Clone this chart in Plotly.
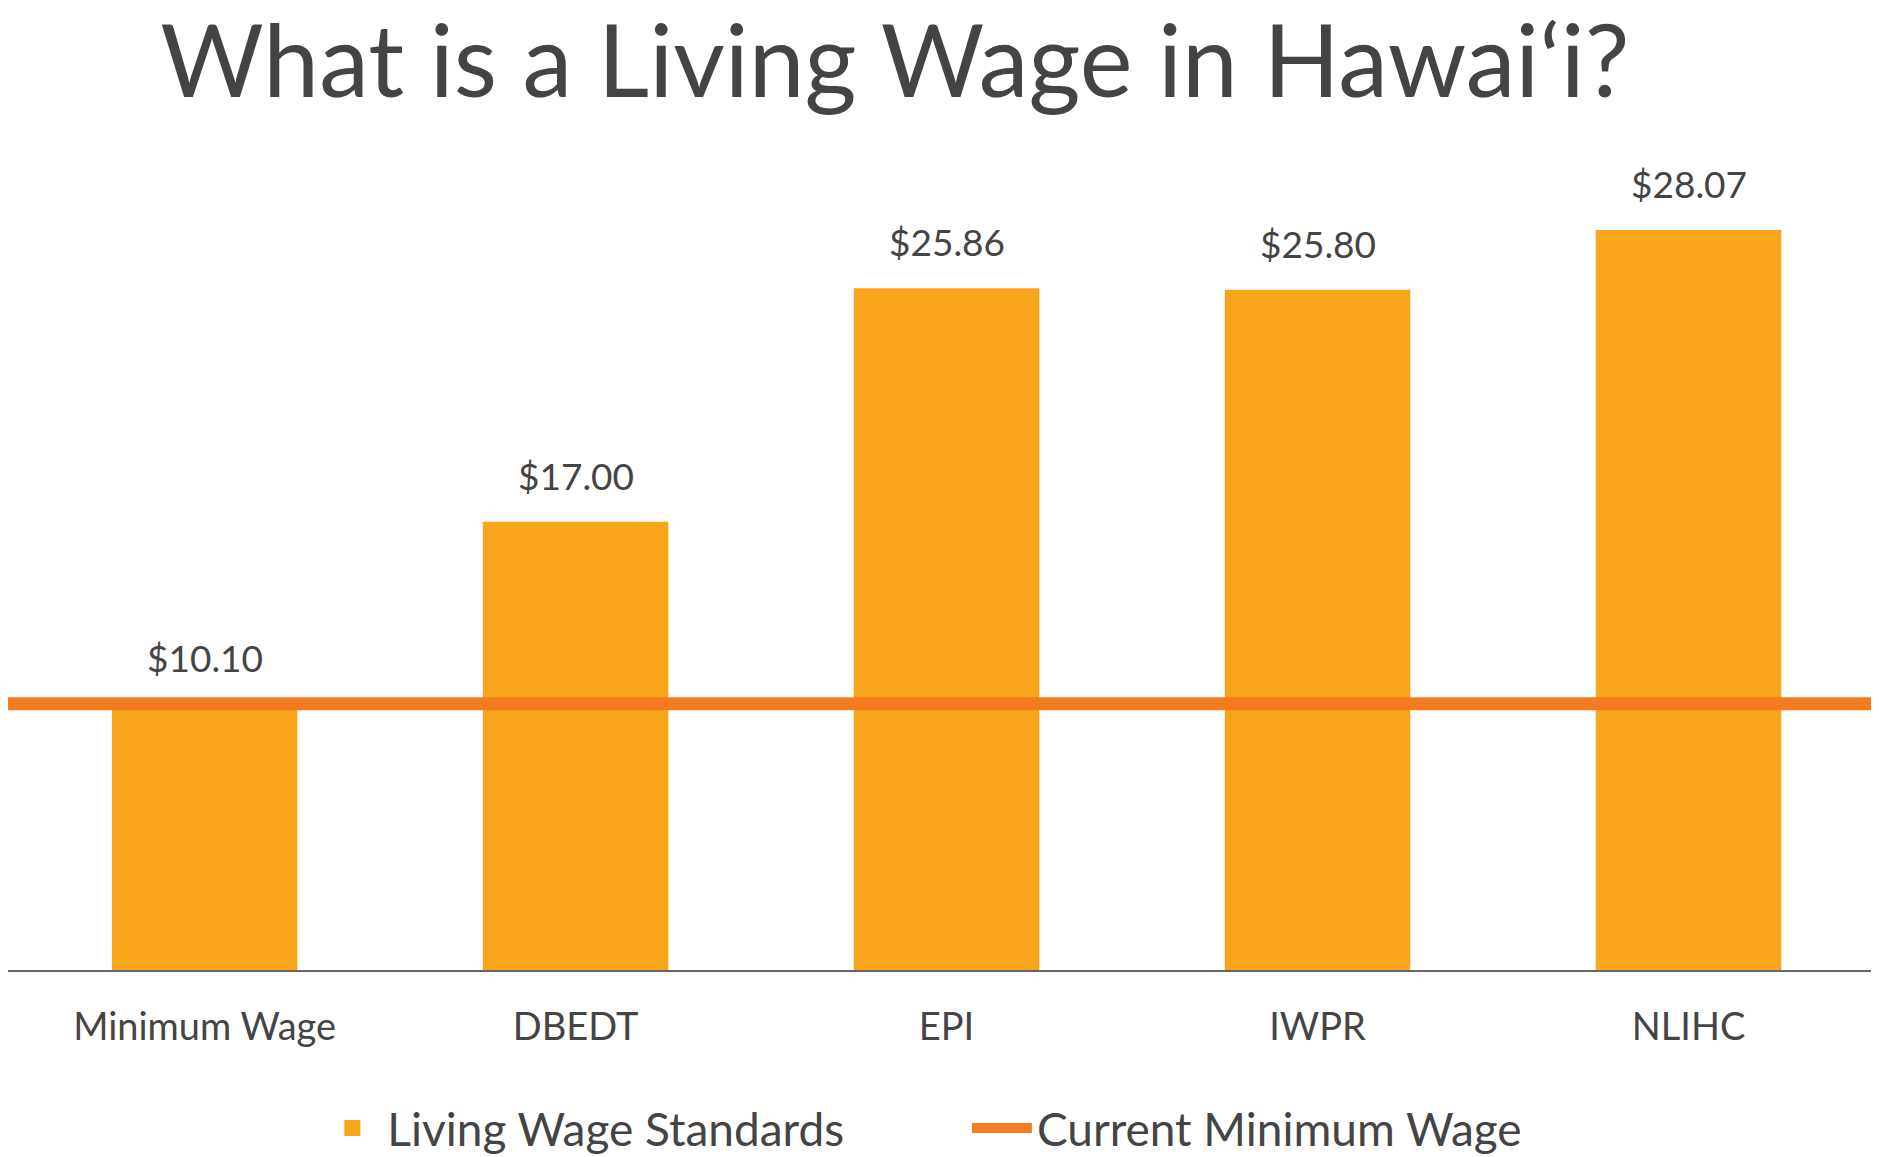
import plotly.graph_objects as go

categories = ["Minimum Wage", "DBEDT", "EPI", "IWPR", "NLIHC"]
wages = [10.10, 17.00, 25.86, 25.80, 28.07]
labels = ["$10.10", "$17.00", "$25.86", "$25.80", "$28.07"]
current_min = 10.10

bar_color = "#F8A51B"
line_color = "#F47B20"
text_color = "#444444"

xs = list(range(len(categories)))

fig = go.Figure()

fig.add_trace(
    go.Bar(
        x=xs,
        y=wages,
        marker=dict(color=bar_color, line=dict(width=0)),
        width=0.5,
        showlegend=False,
    )
)

# value labels sit a little above each bar
for x, w, lab in zip(xs, wages, labels):
    fig.add_annotation(
        x=x, y=w, text=lab, showarrow=False, yanchor="bottom", yshift=22,
        font=dict(size=37, color=text_color),
    )

# current minimum wage across the whole chart
fig.add_trace(
    go.Scatter(
        x=[-0.53, len(categories) - 0.5],
        y=[current_min, current_min],
        mode="lines",
        line=dict(color=line_color, width=13),
        showlegend=False,
    )
)

# legend entries
fig.add_trace(
    go.Scatter(
        x=[None], y=[None], mode="markers",
        marker=dict(color=bar_color, symbol="square", size=50),
        name="Living Wage Standards          ",
    )
)
fig.add_trace(
    go.Scatter(
        x=[None], y=[None], mode="lines",
        line=dict(color=line_color, width=13),
        name="Current Minimum Wage",
    )
)

fig.update_layout(
    width=1879,
    height=1157,
    paper_bgcolor="white",
    plot_bgcolor="white",
    font=dict(family="Lato, sans-serif", color=text_color),
    title=dict(
        text="What is a Living Wage in Hawai‘i?",
        x=0.472,
        xanchor="center",
        y=0.953,
        yanchor="middle",
        font=dict(size=100, color=text_color),
    ),
    margin=dict(l=0, r=13, t=171, b=183),
    showlegend=True,
    legend=dict(
        orientation="h",
        x=0.49,
        xanchor="center",
        y=-0.2,
        yanchor="middle",
        font=dict(size=46, color=text_color),
        itemwidth=60,
        itemsizing="trace",
    ),
    xaxis=dict(
        range=[-0.53, len(categories) - 0.5],
        tickvals=xs,
        ticktext=categories,
        tickfont=dict(size=38, color=text_color),
        ticklabelstandoff=22,
        showgrid=False,
        showline=True,
        linecolor="#666666",
        linewidth=2,
        ticks="",
        zeroline=False,
    ),
    yaxis=dict(
        range=[0, 30],
        visible=False,
        showgrid=False,
        zeroline=False,
    ),
)

fig.write_html("out.html")
